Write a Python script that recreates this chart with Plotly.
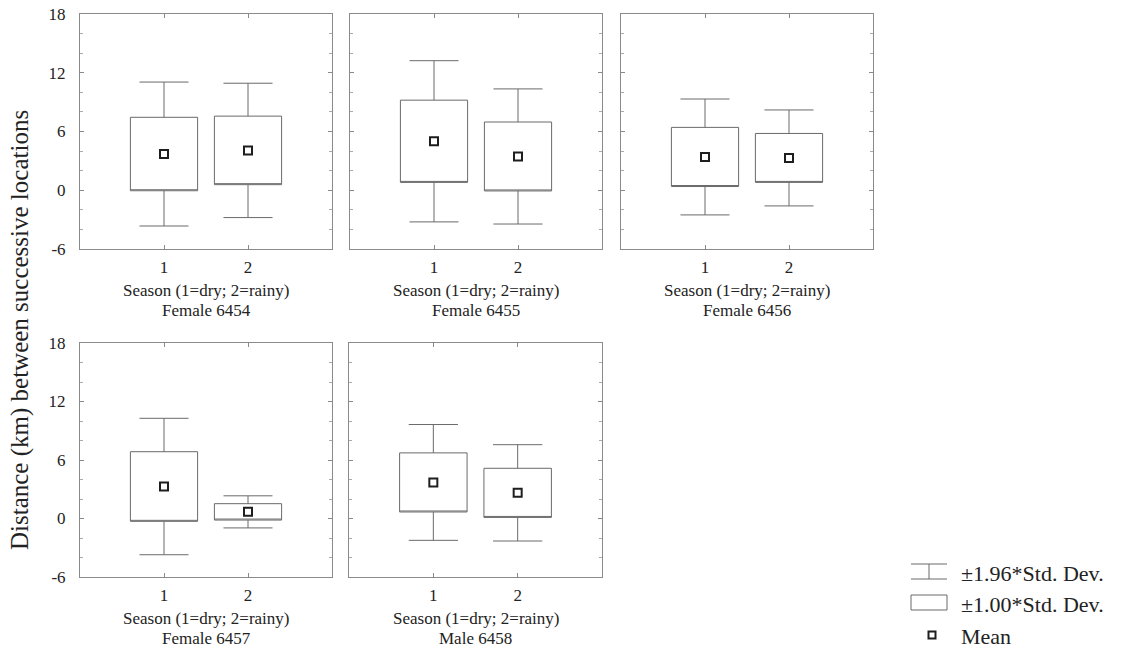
import plotly.graph_objects as go

# ---------------- data ----------------
panel_labels = ["Female 6454", "Female 6455", "Female 6456", "Female 6457", "Male 6458"]
seasons = [1, 2]
season_title = "Season (1=dry; 2=rainy)"
mean_dry = [3.70, 5.00, 3.40, 3.28, 3.70]
mean_rainy = [4.07, 3.45, 3.30, 0.68, 2.63]
sd_dry = [3.75, 4.20, 3.02, 3.57, 3.03]
sd_rainy = [3.50, 3.52, 2.50, 0.84, 2.52]
y_ticks = [-6, 0, 6, 12, 18]
y_title = "Distance (km) between successive locations"
legend_labels = ["\u00b11.96*Std. Dev.", "\u00b11.00*Std. Dev.", "Mean"]

# ---------------- layout helpers ----------------
W, H = 1121, 652
FONT = "Liberation Serif, Times New Roman, serif"
TXT = "#222222"
LINE = "#6a6a6a"
FRAME = "#8a8a8a"


def fx(px):
    return px / W


def fy(py):
    return 1 - py / H


# panel pixel boxes: (left, right, top, bottom)
boxes = [
    (80, 332, 14, 249),
    (350, 602, 14, 249),
    (621, 873, 14, 249),
    (80, 332, 343, 577),
    (349, 602, 343, 577),
]

fig = go.Figure()
layout = dict(
    width=W, height=H, margin=dict(l=0, r=0, t=0, b=0, pad=0, autoexpand=False),
    paper_bgcolor="white", plot_bgcolor="white", showlegend=False,
    font=dict(family=FONT, color=TXT, size=17),
)
annotations = []
shapes = []

for i, name in enumerate(panel_labels):
    k = "" if i == 0 else str(i + 1)
    xa, ya = "x" + k, "y" + k
    l, r, t, b = boxes[i]
    means = [mean_dry[i], mean_rainy[i]]
    sds = [sd_dry[i], sd_rainy[i]]
    q1 = [m - s for m, s in zip(means, sds)]
    q3 = [m + s for m, s in zip(means, sds)]
    lo = [m - 1.96 * s for m, s in zip(means, sds)]
    hi = [m + 1.96 * s for m, s in zip(means, sds)]
    fig.add_trace(go.Box(
        x=seasons, q1=q1, median=q1, q3=q3, lowerfence=lo, upperfence=hi,
        width=0.8, whiskerwidth=0.73, boxpoints=False,
        line=dict(color=LINE, width=1), fillcolor="rgba(0,0,0,0)",
        xaxis=xa, yaxis=ya, hoverinfo="skip",
    ))
    fig.add_trace(go.Scatter(
        x=seasons, y=means, mode="markers",
        marker=dict(symbol="square", size=8, color="white",
                    line=dict(color="#1e1e1e", width=2)),
        xaxis=xa, yaxis=ya, hoverinfo="skip",
    ))
    first_col = i in (0, 3)
    layout["xaxis" + k] = dict(
        domain=[fx(l), fx(r)], anchor=ya, range=[0, 3], automargin=False,
        tickvals=seasons, ticktext=[str(s) for s in seasons],
        ticks="inside", ticklen=4, tickcolor=FRAME, mirror="ticks",
        showline=True, linecolor=FRAME, linewidth=1,
        showgrid=False, zeroline=False, ticklabelstandoff=3,
        tickfont=dict(size=17, family=FONT, color=TXT),
    )
    layout["yaxis" + k] = dict(
        domain=[fy(b), fy(t)], anchor=xa, range=[-6, 18], automargin=False,
        tickvals=y_ticks, ticktext=[str(v) for v in y_ticks],
        ticks="inside", ticklen=4, tickcolor=FRAME, mirror="ticks",
        minor=dict(tick0=0, dtick=2, ticks="inside", ticklen=3, tickcolor="#aaaaaa"),
        showline=True, linecolor=FRAME, linewidth=1,
        showgrid=False, zeroline=False, showticklabels=first_col,
        ticklabelstandoff=10,
        tickfont=dict(size=17, family=FONT, color=TXT),
    )
    annotations.append(dict(
        xref=xa, yref=ya + " domain", x=1.5, y=0, yanchor="middle",
        yshift=-41, text=season_title, showarrow=False,
        font=dict(size=17, family=FONT, color=TXT),
    ))
    annotations.append(dict(
        xref=xa, yref=ya + " domain", x=1.5, y=0, yanchor="middle",
        yshift=-61, text=name, showarrow=False,
        font=dict(size=17, family=FONT, color=TXT),
    ))

# y-axis title
annotations.append(dict(
    xref="paper", yref="paper", x=fx(20), y=fy(330), text=y_title,
    textangle=-90, showarrow=False, xanchor="center", yanchor="middle",
    font=dict(size=25, family=FONT, color=TXT),
))

# legend (drawn)
lc = dict(color=LINE, width=1)
shapes += [
    dict(type="line", xref="paper", yref="paper", x0=fx(911), x1=fx(947), y0=fy(564), y1=fy(564), line=lc),
    dict(type="line", xref="paper", yref="paper", x0=fx(929), x1=fx(929), y0=fy(564), y1=fy(579), line=lc),
    dict(type="line", xref="paper", yref="paper", x0=fx(911), x1=fx(947), y0=fy(579), y1=fy(579), line=lc),
    dict(type="rect", xref="paper", yref="paper", x0=fx(911), x1=fx(947), y0=fy(595), y1=fy(610), line=lc),
    dict(type="rect", xref="paper", yref="paper", x0=fx(928.5), x1=fx(935.5), y0=fy(631.5), y1=fy(638.5),
         line=dict(color="#1e1e1e", width=2), fillcolor="white"),
]
for lab, yy in zip(legend_labels, [573, 604, 636]):
    annotations.append(dict(
        xref="paper", yref="paper", x=fx(959), y=fy(yy), text=lab,
        xanchor="left", yanchor="middle", showarrow=False,
        font=dict(size=22, family=FONT, color=TXT),
    ))

layout["annotations"] = annotations
layout["shapes"] = shapes
fig.update_layout(**layout)
fig.write_html(
    "out.html",
    config={"displayModeBar": False},
    post_script="document.body.style.margin='0';document.body.style.overflow='hidden';",
)
